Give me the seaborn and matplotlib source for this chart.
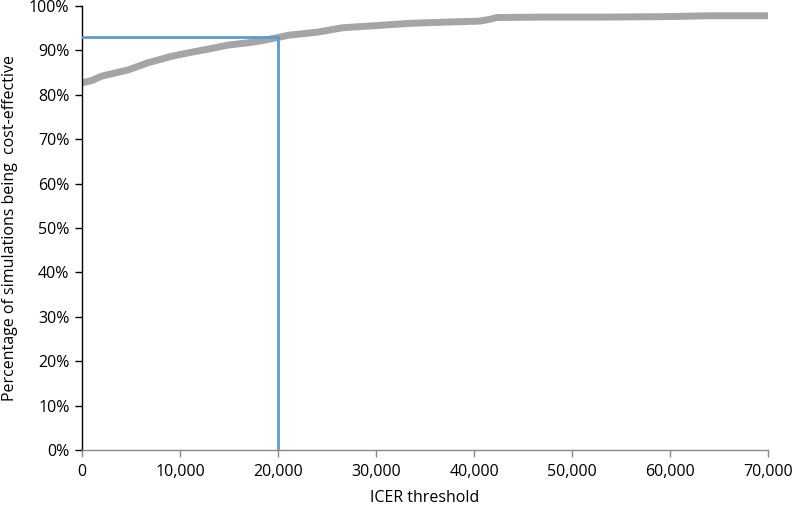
import matplotlib
matplotlib.use("Agg")
import matplotlib.pyplot as plt
import seaborn as sns
import pandas as pd
from matplotlib.ticker import FuncFormatter

sns.set_theme(style="white")
plt.rcParams['font.family'] = ['Open Sans', 'DejaVu Sans']

icer = [0, 1000, 2000, 4700, 6700, 9200, 11200, 12900, 14900, 16900, 18400, 20000,
        21000, 22700, 24000, 26600, 29400, 33500, 37600, 40600, 41600, 42300, 46700,
        53000, 59300, 64000, 70000]
pct = [82.7, 83.2, 84.2, 85.6, 87.2, 88.7, 89.6, 90.3, 91.2, 91.7, 92.2, 92.9,
       93.4, 93.8, 94.1, 95.1, 95.5, 96.1, 96.4, 96.6, 97.0, 97.4, 97.5,
       97.5, 97.6, 97.8, 97.8]
threshold_x = 20000
threshold_y = 93.0

df = pd.DataFrame({"ICER threshold": icer, "pct": pct})

fig = plt.figure(figsize=(7.94, 5.08), dpi=100)
ax = fig.add_axes([82/794, 1 - 450/508, (768-82)/794, (450-6)/508])

sns.lineplot(data=df, x="ICER threshold", y="pct", ax=ax, color="#A5A5A5",
             linewidth=5, solid_capstyle="butt", zorder=2)
ax.plot([0, threshold_x], [threshold_y, threshold_y], color="#5B9BD5", linewidth=2, zorder=3)
ax.plot([threshold_x, threshold_x], [0, threshold_y], color="#5B9BD5", linewidth=2, zorder=3)

ax.set_xlim(0, 70000)
ax.set_ylim(0, 100)
ax.set_xticks(range(0, 70001, 10000))
ax.set_yticks(range(0, 101, 10))
ax.xaxis.set_major_formatter(FuncFormatter(lambda v, p: f"{int(v):,}"))
ax.yaxis.set_major_formatter(FuncFormatter(lambda v, p: f"{int(v)}%"))

for s in ["top", "right"]:
    ax.spines[s].set_visible(False)
ax.spines["left"].set_color("black")
ax.spines["left"].set_linewidth(1)
ax.spines["bottom"].set_color("#898989")
ax.spines["bottom"].set_linewidth(1)

ax.tick_params(axis="y", which="major", left=True, length=5, width=1, color="black",
               labelsize=11.5, labelcolor="black", pad=4)
ax.tick_params(axis="x", which="major", bottom=True, length=5, width=1, color="#898989",
               labelsize=11.5, labelcolor="black", pad=5)

ax.set_xlabel("ICER threshold", fontsize=11.5, color="black", labelpad=7)
ax.set_ylabel("Percentage of simulations being  cost-effective", fontsize=11.5,
              color="black", labelpad=8)
ax.grid(False)

fig.savefig("out.png", dpi=100)
